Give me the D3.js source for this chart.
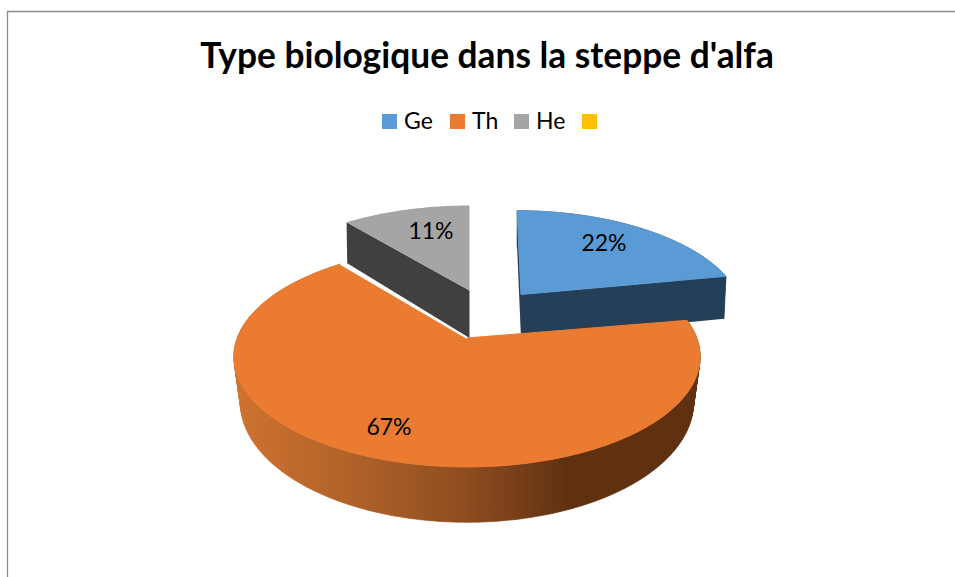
<!DOCTYPE html>
<html><head><meta charset="utf-8">
<script src="https://cdn.jsdelivr.net/npm/d3@7/dist/d3.min.js"></script>
<style>html,body{margin:0;padding:0;background:#fff}svg{display:block}text{font-family:Lato,"Open Sans",sans-serif;fill:#000}</style>
</head><body><svg id="c" width="955" height="577"></svg>
<script>
const title = "Type biologique dans la steppe d'alfa";
const categories = ["Ge","Th","He",""];
const values = [22,67,11,0];
const colors = ["#5B9BD5","#EA7B30","#A5A5A5","#FFC000"];
const wallColors = ["#243F57","#5F3111","#404040","#000"];

// layout only
const W=955,H=577;
const deg=Math.PI/180;
const geom = {
  Ge:{ax:521,ay:294.5,R:217.7,Ry:101,P:0.2057,D:44,shrink:0.99,tilt:0.047,rot:0,lx:604,ly:243},
  Th:{ax:467,ay:338,R:229.7,Ry:107,P:0.17,D:44,shrink:0.972,tilt:0,rot:1*deg,lx:389,ly:427},
  He:{ax:469.5,ay:290.5,R:223.4,Ry:102.5,P:0.2057,D:47.5,shrink:0.995,tilt:0,rot:0,lx:431,ly:231}
};
const PD=0.2057;

const svg=d3.select("#c");
const defs=svg.append("defs");
const grad=defs.append("linearGradient").attr("id","wall").attr("gradientUnits","userSpaceOnUse")
  .attr("x1",234).attr("x2",699).attr("y1",0).attr("y2",0);
[[0,"#CF7330"],[0.25,"#B0622A"],[0.5,"#8E4C20"],[0.72,"#5F3111"],[1,"#5F3111"]]
  .forEach(s=>grad.append("stop").attr("offset",s[0]).attr("stop-color",s[1]));

// frame
svg.append("path").attr("d",`M7.5,${H}V11.5H${W}`).attr("fill","none").attr("stroke","#8c8c8c").attr("stroke-width",1.3);

svg.append("text").attr("x",487).attr("y",68).attr("text-anchor","middle")
  .attr("font-size",35.3).attr("font-weight",700).text(title);

// legend
const legendPos={Ge:382,Th:450,He:514,"":582};
categories.forEach((c,i)=>{
  const x=legendPos[c];
  svg.append("rect").attr("x",x).attr("y",114).attr("width",15).attr("height",15).attr("fill",colors[i]);
  svg.append("text").attr("x",x+22).attr("y",129).attr("font-size",23).text(c);
});

const pie=d3.pie().sort(null).value(d=>d).startAngle(0).endAngle(2*Math.PI);
const arcs=pie(values);
const line=d3.line();

function proj(g,t0){
  const t=t0+g.rot,s=Math.sin(t),c=Math.cos(t),den=1+g.P*c;
  const X=g.R*s/den, Y=g.Ry*c/den;
  return [g.ax+X-g.tilt*Y, g.ay-Y];
}
function down(g,p,t,f=1){return [g.ax+(p[0]-g.ax)*g.shrink,p[1]+g.D/(1+PD*Math.cos(t+g.rot)*f)];}
function samples(a,b){const n=Math.max(8,Math.ceil((b-a)*60));return d3.range(n+1).map(i=>a+(b-a)*i/n);}

function topPath(g,a){return line([[g.ax,g.ay],...samples(a.startAngle,a.endAngle).map(t=>proj(g,t))])+"Z";}
function cutWall(g,t){const o=proj(g,t),c=[g.ax,g.ay];return line([c,o,down(g,o,t),down(g,c,t,0)])+"Z";}
// outer wall as small quads so that the side silhouette joins top and bottom rims
function outerQuads(g,a,b){
  const ts=samples(a,b);
  return ts.slice(1).map((t,i)=>{
    const t0=ts[i],p0=proj(g,t0),p1=proj(g,t);
    return line([p0,p1,down(g,p1,t),down(g,p0,t0)])+"Z";
  }).join("");
}
const ge=arcs[0],th=arcs[1],he=arcs[2];
const gGe=geom.Ge,gTh=geom.Th,gHe=geom.He;

// He
svg.append("path").attr("d",cutWall(gHe,he.startAngle)).attr("fill",wallColors[2]);
svg.append("path").attr("d",topPath(gHe,he)).attr("fill",colors[2]);
// Ge
svg.append("path").attr("d",cutWall(gGe,ge.startAngle)).attr("fill",wallColors[0]);
svg.append("path").attr("d",cutWall(gGe,ge.endAngle)).attr("fill",wallColors[0]);
svg.append("path").attr("d",outerQuads(gGe,ge.startAngle,ge.endAngle)).attr("fill",wallColors[0]).attr("stroke",wallColors[0]).attr("stroke-width",0.6);
svg.append("path").attr("d",topPath(gGe,ge)).attr("fill",colors[0]).attr("stroke",colors[0]).attr("stroke-width",1);
// Th
svg.append("path").attr("d",outerQuads(gTh,th.startAngle,th.endAngle)).attr("fill","url(#wall)").attr("stroke","url(#wall)").attr("stroke-width",0.6);
svg.append("path").attr("d",topPath(gTh,th)).attr("fill",colors[1]).attr("stroke",colors[1]).attr("stroke-width",1);
svg.append("path").attr("d",line([[gTh.ax,gTh.ay],proj(gTh,th.endAngle)])).attr("stroke","#fff").attr("stroke-width",1.6).attr("fill","none");

// labels
[["Ge",0],["Th",1],["He",2]].forEach(([k,i])=>{
  svg.append("text").attr("x",geom[k].lx).attr("y",geom[k].ly+8).attr("text-anchor","middle")
    .attr("font-size",23).text(values[i]+"%");
});
</script></body></html>
